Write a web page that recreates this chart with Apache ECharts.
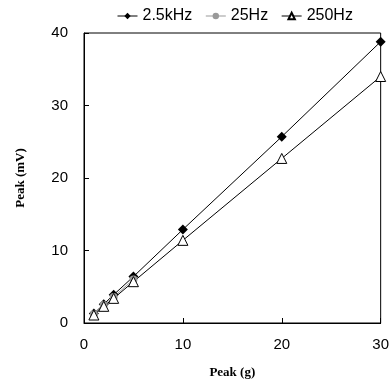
<!DOCTYPE html>
<html>
<head>
<meta charset="utf-8">
<script src="https://cdn.jsdelivr.net/npm/echarts@6/dist/echarts.min.js"></script>
<style>
  html, body {margin: 0; padding: 0; background: #fff;}
  #main {width: 392px; height: 386px;}
</style>
</head>
<body>
<div id="main"></div>
<script>
const peakG = [1, 2, 3, 5, 10, 20, 30];
const khz25 = [1.3, 2.6, 3.9, 6.4, 12.9, 25.7, 38.8];
const hz25G = [1, 2, 3, 5];
const hz25 = [1.2, 2.5, 3.6, 6.0];
const hz250 = [1.1, 2.3, 3.4, 5.7, 11.4, 22.7, 34.0];

const pairs = (xs, ys) => xs.map((x, i) => [x, ys[i]]);

const myChart = echarts.init(document.getElementById('main'));
myChart.setOption({
  animation: false,
  legend: {
    top: 3,
    left: 112,
    itemGap: 13,
    itemWidth: 20,
    itemHeight: 8,
    lineStyle: {width: 1},
    textStyle: {color: '#000', fontSize: 16, fontFamily: 'Liberation Sans, Arial'},
    data: ['2.5kHz', '25Hz', '250Hz']
  },
  grid: {left: 84, right: 10, top: 33, bottom: 63, show: true, borderColor: '#000', borderWidth: 1},
  xAxis: {
    type: 'value', min: 0, max: 30, interval: 10,
    name: 'Peak (g)', nameLocation: 'middle', nameGap: 43,
    nameTextStyle: {fontFamily: 'Liberation Serif, Times New Roman', fontWeight: 'bold', fontSize: 13, color: '#000'},
    axisLine: {lineStyle: {color: '#000'}},
    axisTick: {inside: true, length: 5, lineStyle: {color: '#000'}},
    axisLabel: {color: '#000', fontSize: 15, margin: 14, fontFamily: 'Liberation Sans, Arial'},
    splitLine: {show: false}
  },
  yAxis: {
    type: 'value', min: 0, max: 40, interval: 10,
    name: 'Peak (mV)', nameLocation: 'middle', nameGap: 57, nameRotate: 90,
    nameTextStyle: {fontFamily: 'Liberation Serif, Times New Roman', fontWeight: 'bold', fontSize: 13, color: '#000'},
    axisLine: {show: true, lineStyle: {color: '#000'}},
    axisTick: {show: true, inside: true, length: 5, lineStyle: {color: '#000'}},
    axisLabel: {color: '#000', fontSize: 15, margin: 16, fontFamily: 'Liberation Sans, Arial'},
    splitLine: {show: false}
  },
  series: [
    {
      name: '2.5kHz', type: 'line', data: pairs(peakG, khz25),
      symbol: 'diamond', symbolSize: 10,
      itemStyle: {color: '#000'}, lineStyle: {color: '#000', width: 1}
    },
    {
      name: '25Hz', type: 'line', data: pairs(hz25G, hz25),
      symbol: 'circle', symbolSize: 8,
      itemStyle: {color: '#999'}, lineStyle: {color: '#999', width: 1}
    },
    {
      name: '250Hz', type: 'line', data: pairs(peakG, hz250),
      symbol: 'triangle', symbolSize: 10,
      itemStyle: {color: '#fff', borderColor: '#000', borderWidth: 1},
      lineStyle: {color: '#000', width: 1}
    }
  ]
});
</script>
</body>
</html>
